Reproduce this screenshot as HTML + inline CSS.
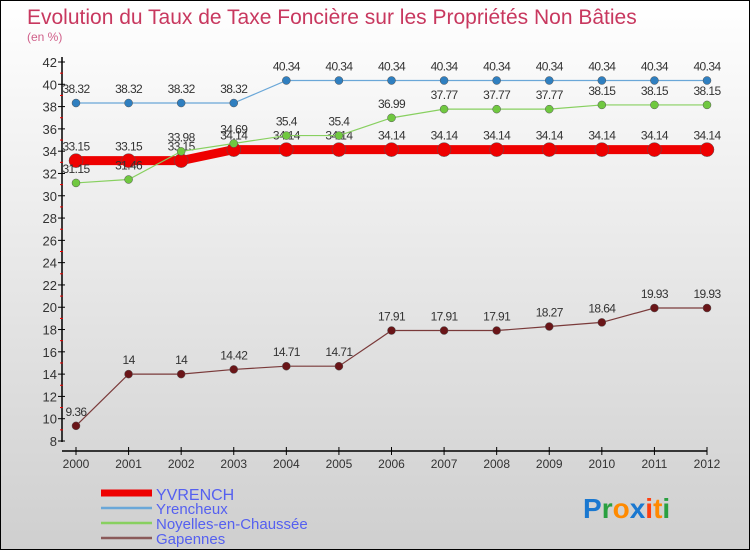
<!DOCTYPE html>
<html><head><meta charset="utf-8">
<style>
body{margin:0;width:750px;height:550px;overflow:hidden;}
#wrap{position:relative;width:748px;height:548px;border:1px solid #000;background:linear-gradient(#ffffff,#cfcfcf);}
svg{position:absolute;left:0;top:0;}
text{font-family:"Liberation Sans",sans-serif;}
</style></head>
<body>
<div id="wrap">
<svg id="chart" width="750" height="550">
<text x="26" y="23" font-size="21" fill="#c8385f">Evolution du Taux de Taxe Foncière sur les Propriétés Non Bâties</text>
<text x="26" y="40" font-size="12" fill="#d0608a">(en %)</text>
<g id="axes"></g>
<g id="series"></g>
<g id="legend"></g>
<text x="582" y="517" font-size="28" font-weight="bold"><tspan fill="#1a78d0">P</tspan><tspan fill="#2aa040">r</tspan><tspan fill="#ff8a00">o</tspan><tspan fill="#1a78d0">x</tspan><tspan fill="#ff4010">i</tspan><tspan fill="#ff8a00">t</tspan><tspan fill="#2aa040">i</tspan></text>
</svg>
</div>
<script>
const years=[2000,2001,2002,2003,2004,2005,2006,2007,2008,2009,2010,2011,2012];
const yTicks=[8,10,12,14,16,18,20,22,24,26,28,30,32,34,36,38,40,42];
const seriesNames=["YVRENCH","Yrencheux","Noyelles-en-Chaussée","Gapennes"];
const yvrench=[33.15,33.15,33.15,34.14,34.14,34.14,34.14,34.14,34.14,34.14,34.14,34.14,34.14];
const yrencheux=[38.32,38.32,38.32,38.32,40.34,40.34,40.34,40.34,40.34,40.34,40.34,40.34,40.34];
const noyelles=[31.15,31.46,33.98,34.69,35.4,35.4,36.99,37.77,37.77,37.77,38.15,38.15,38.15];
const gapennes=[9.36,14,14,14.42,14.71,14.71,17.91,17.91,17.91,18.27,18.64,19.93,19.93];
const NS="http://www.w3.org/2000/svg";
const x=i=>75+i*(706-75)/12;
const y=v=>440-(v-8)*(440-61)/34;
function mk(tag,attrs,parent,txt){const e=document.createElementNS(NS,tag);for(const k in attrs)e.setAttribute(k,attrs[k]);if(txt!==undefined)e.textContent=txt;parent.appendChild(e);return e;}
const axes=document.getElementById('axes');
let e=mk('line',{x1:61,y1:56,x2:61,y2:441,stroke:'#000','stroke-width':1.5},axes);

e=mk('line',{x1:61,y1:450,x2:706,y2:450,stroke:'#000','stroke-width':1.5},axes);

yTicks.forEach(t=>{
 mk('line',{x1:57,y1:y(t),x2:64,y2:y(t),stroke:'#000'},axes);
 if(t<42) mk('line',{x1:59,y1:y(t+1),x2:62,y2:y(t+1),stroke:'#e00'},axes);
 e=mk('text',{x:56,y:y(t)+5,'font-size':13,fill:'#333','text-anchor':'end'},axes,t);
 
});
years.forEach((yr,i)=>{
 mk('line',{x1:x(i),y1:446,x2:x(i),y2:454,stroke:'#000'},axes);
 e=mk('text',{x:x(i),y:467,'font-size':12,fill:'#333','text-anchor':'middle'},axes,yr);
 
});
const sg=document.getElementById('series');
function draw(vals,color,lw,r,name,dot){
 const g=mk('g',{},sg);
 
 e=mk('polyline',{points:vals.map((v,i)=>x(i)+','+y(v)).join(' '),fill:'none',stroke:color,'stroke-width':lw},g);
 
 vals.forEach((v,i)=>{
  e=mk('circle',{cx:x(i),cy:y(v),r:r,fill:dot,stroke:'#555','stroke-width':0.5},g);
  
  e=mk('text',{x:x(i),y:y(v)-10,'font-size':12,fill:'#333','text-anchor':'middle','letter-spacing':'-0.6'},g,v);
  
 });
}
draw(yrencheux,'#6aa7d8',1.2,4,'yrencheux','#2f7fc0');
draw(gapennes,'#7a3a3a',1.2,4,'gapennes','#6a1518');
draw(yvrench,'#ee0000',9,7,'yvrench','#ee0000');
draw(noyelles,'#88d060',1.2,4,'noyelles','#70c840');
const lg=document.getElementById('legend');
const lcol=['#ee0000','#6aa7d8','#88d060','#8a5a5a'];
seriesNames.forEach((n,i)=>{
 const yy=492+i*15;
 e=mk('line',{x1:100,y1:yy,x2:151,y2:yy,stroke:lcol[i],'stroke-width':i==0?7:2.5},lg);
 
 e=mk('text',{x:155,y:yy+(i==0?7:6),'font-size':i==0?16:15,fill:'#5560f0'},lg,n);
 
});
</script>
</body></html>
